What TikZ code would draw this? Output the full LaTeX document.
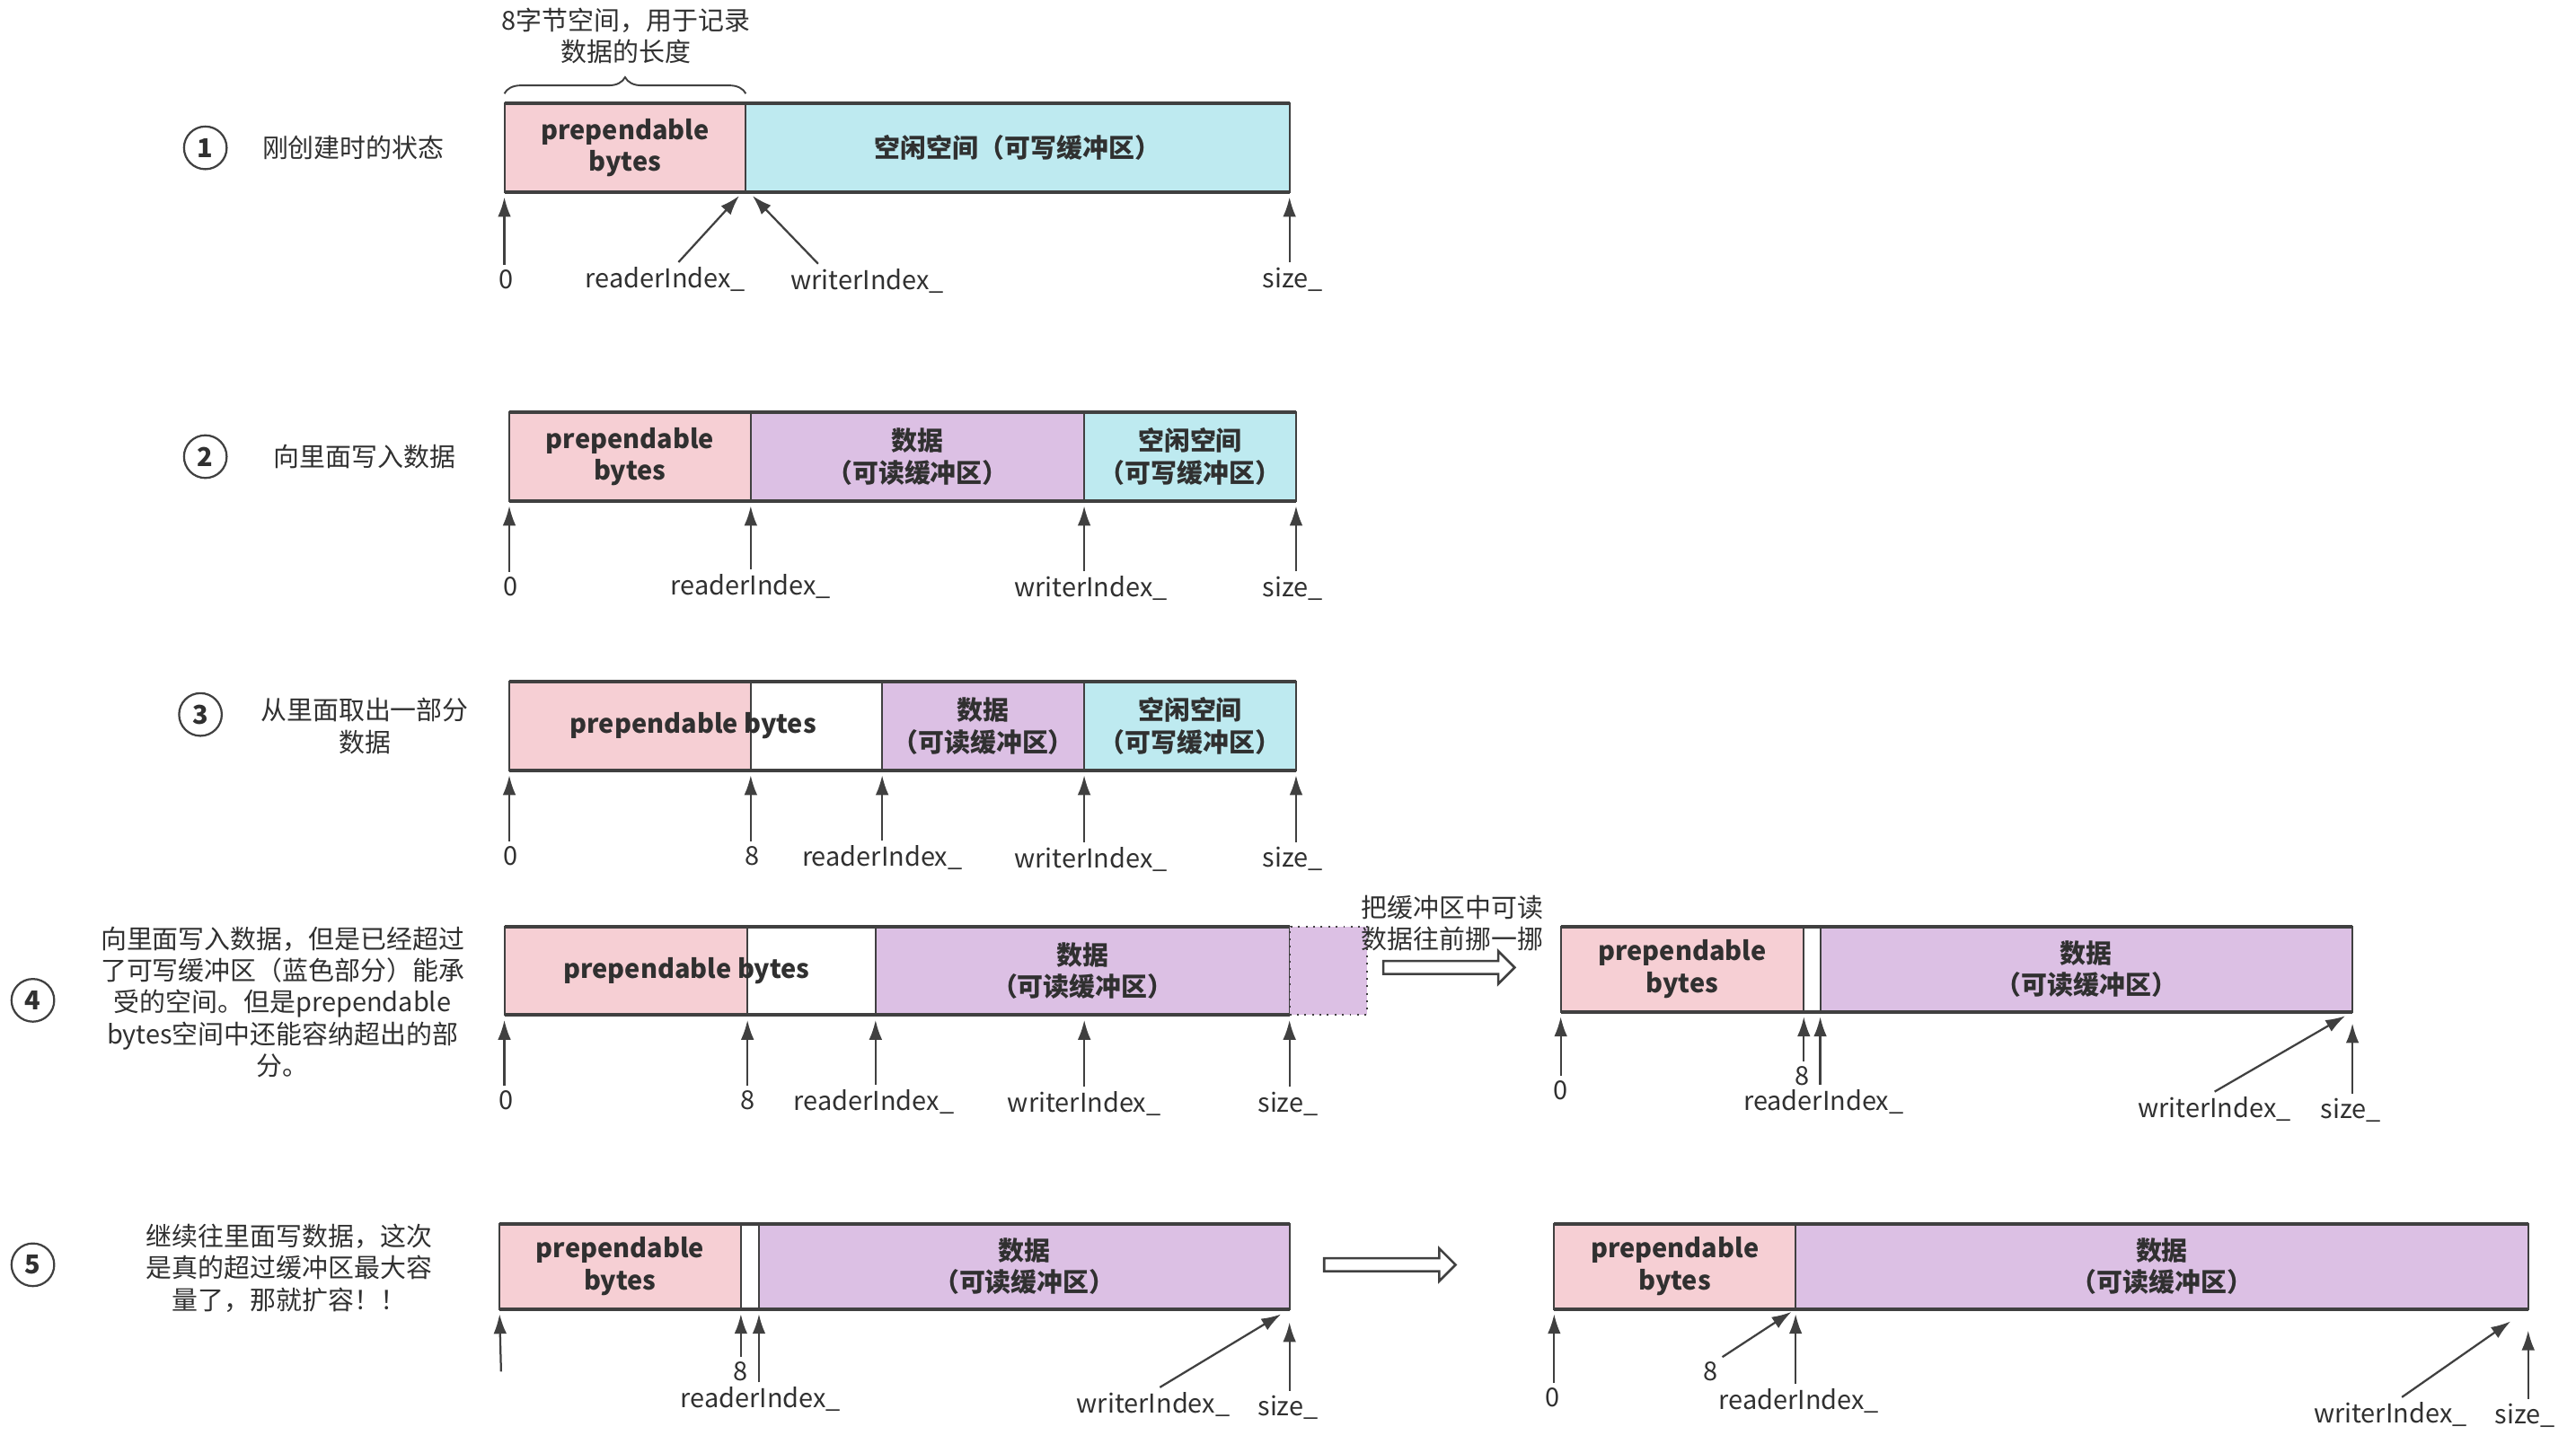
\documentclass[tikz,border=0pt]{standalone}
\usepackage{fontspec}
\setmainfont{Noto Sans CJK SC}
\usepackage{xcolor}
\usepackage{tikz}
\usetikzlibrary{arrows.meta,positioning,shapes.arrows,decorations.pathreplacing}
\definecolor{ink}{HTML}{303030}
\definecolor{edge}{HTML}{404040}
\definecolor{prepink}{HTML}{F6CFD4}
\definecolor{freecyan}{HTML}{BEEAF0}
\definecolor{datapurple}{HTML}{DCC0E4}
\tikzset{
  segbox/.style={draw=edge,line width=0.6pt,minimum height=1.08cm,inner sep=0pt,outer sep=0pt,
    anchor=west,align=center,font=\fontsize{9}{11}\selectfont\bfseries,text=ink},
  rim/.style={draw=edge,line width=1.3pt},
  idxlabel/.style={font=\fontsize{9}{11}\selectfont,text=ink,inner sep=1.5pt},
  note/.style={font=\fontsize{9}{11}\selectfont,text=ink,align=center,inner sep=0pt},
  numcirc/.style={circle,draw=edge,line width=0.7pt,minimum size=0.52cm,inner sep=0pt,
    font=\fontsize{9}{9}\selectfont\bfseries,text=ink},
  ptr/.style={-{Latex[length=0.24cm,width=0.16cm]},line width=0.7pt,draw=edge,shorten >=0.06cm},
  brace/.style={decorate,decoration={brace,amplitude=0.2cm},draw=edge,line width=0.6pt},
  hollowarrow/.style={single arrow,draw=edge,line width=0.8pt,fill=white,inner xsep=0pt,
    inner ysep=0.065cm,minimum height=1.6cm,single arrow head extend=0.12cm}
}
\begin{document}
\begin{tikzpicture}[x=0.02cm,y=-0.02cm]
\useasboundingbox (0,0) rectangle (1568,879);

% 1
\node[numcirc] (n1) at (125,90) {1};
\node[note] (r1desc) at (215,90) {刚创建时的状态};
\node[segbox,fill=prepink,minimum width=2.94cm] (r1pre) at (307,90) {prependable\\bytes};
\node[segbox,fill=freecyan,minimum width=6.62cm,right=0pt of r1pre] (r1free) {空闲空间（可写缓冲区）};
\draw[rim] (r1pre.north west) -- (r1free.north east);
\draw[rim] (r1pre.south west) -- (r1free.south east);
\draw[brace] ([yshift=0.12cm]r1pre.north west) -- ([yshift=0.12cm]r1pre.north east);
\node[note] (r1note) at (381,22) {8字节空间，用于记录\\数据的长度};
\node[idxlabel] (r1zero) at (308,170) {0};
\node[idxlabel] (r1rd) at (405,170) {readerIndex\_};
\node[idxlabel] (r1wr) at (528,171) {writerIndex\_};
\node[idxlabel] (r1sz) at (787,170) {size\_};
\draw[ptr] (r1pre.south west |- r1zero.north) -- (r1pre.south west);
\draw[ptr] ([xshift=0.16cm]r1rd.north) -- ([xshift=-0.04cm]r1pre.south east);
\draw[ptr] ([xshift=-0.6cm]r1wr.north) -- ([xshift=0.04cm]r1pre.south east);
\draw[ptr] (r1free.south east |- r1sz.north) -- (r1free.south east);

% 2
\node[numcirc] (n2) at (125,278) {2};
\node[note] (r2desc) at (222,278) {向里面写入数据};
\node[segbox,fill=prepink,minimum width=2.94cm] (r2pre) at (310,278) {prependable\\bytes};
\node[segbox,fill=datapurple,minimum width=4.06cm,right=0pt of r2pre] (r2dat) {数据\\（可读缓冲区）};
\node[segbox,fill=freecyan,minimum width=2.58cm,right=0pt of r2dat] (r2free) {空闲空间\\（可写缓冲区）};
\draw[rim] (r2pre.north west) -- (r2free.north east);
\draw[rim] (r2pre.south west) -- (r2free.south east);
\node[idxlabel] (r2zero) at (311,357) {0};
\node[idxlabel] (r2rd) at (457,357) {readerIndex\_};
\node[idxlabel] (r2wr) at (664,358) {writerIndex\_};
\node[idxlabel] (r2sz) at (787,358) {size\_};
\draw[ptr] (r2pre.south west |- r2zero.north) -- (r2pre.south west);
\draw[ptr] (r2pre.south east |- r2rd.north) -- (r2pre.south east);
\draw[ptr] (r2dat.south east |- r2wr.north) -- (r2dat.south east);
\draw[ptr] (r2free.south east |- r2sz.north) -- (r2free.south east);

% 3
\node[numcirc] (n3) at (122,435) {3};
\node[note] (r3desc) at (222,442) {从里面取出一部分\\数据};
\node[segbox,fill=prepink,minimum width=2.94cm] (r3pre) at (310,442) {};
\node[segbox,fill=white,minimum width=1.60cm,right=0pt of r3pre] (r3gap) {};
\node[segbox,fill=datapurple,minimum width=2.46cm,right=0pt of r3gap] (r3dat) {数据\\（可读缓冲区）};
\node[segbox,fill=freecyan,minimum width=2.58cm,right=0pt of r3dat] (r3free) {空闲空间\\（可写缓冲区）};
\draw[rim] (r3pre.north west) -- (r3free.north east);
\draw[rim] (r3pre.south west) -- (r3free.south east);
\node[segbox,draw=none,anchor=center] (r3pretext) at (422,442) {prependable bytes};
\node[idxlabel] (r3zero) at (311,521) {0};
\node[idxlabel] (r3eight) at (458,521) {8};
\node[idxlabel] (r3rd) at (537,522) {readerIndex\_};
\node[idxlabel] (r3wr) at (664,523) {writerIndex\_};
\node[idxlabel] (r3sz) at (787,523) {size\_};
\draw[ptr] (r3pre.south west |- r3zero.north) -- (r3pre.south west);
\draw[ptr] (r3pre.south east |- r3eight.north) -- (r3pre.south east);
\draw[ptr] (r3gap.south east |- r3rd.north) -- (r3gap.south east);
\draw[ptr] (r3dat.south east |- r3wr.north) -- (r3dat.south east);
\draw[ptr] (r3free.south east |- r3sz.north) -- (r3free.south east);

% 4
\node[numcirc] (n4) at (20,609) {4};
\node[note] (r4desc) at (172,610) {向里面写入数据，但是已经超过\\了可写缓冲区（蓝色部分）能承\\受的空间。但是prependable\\bytes空间中还能容纳超出的部\\分。};
\node[segbox,fill=prepink,minimum width=2.96cm] (r4pre) at (307,591) {};
\node[segbox,fill=white,minimum width=1.56cm,right=0pt of r4pre] (r4gap) {};
\node[segbox,fill=datapurple,minimum width=5.04cm,right=0pt of r4gap] (r4dat) {数据\\（可读缓冲区）};
\node[segbox,fill=datapurple,dotted,minimum width=0.94cm,right=0pt of r4dat] (r4over) {};
\draw[rim] (r4pre.north west) -- (r4dat.north east);
\draw[rim] (r4pre.south west) -- (r4dat.south east);
\node[segbox,draw=none,anchor=center] (r4pretext) at (418,591) {prependable bytes};
\node[idxlabel] (r4zero) at (308,670) {0};
\node[idxlabel] (r4eight) at (455,670) {8};
\node[idxlabel] (r4rd) at (532,671) {readerIndex\_};
\node[idxlabel] (r4wr) at (660,672) {writerIndex\_};
\node[idxlabel] (r4sz) at (784,672) {size\_};
\draw[ptr] (r4pre.south west |- r4zero.north) -- (r4pre.south west);
\draw[ptr] (r4pre.south east |- r4eight.north) -- (r4pre.south east);
\draw[ptr] (r4gap.south east |- r4rd.north) -- (r4gap.south east);
\draw[ptr] (r4wr.north) -- (r4wr.north |- r4dat.south);
\draw[ptr] (r4dat.south east |- r4sz.north) -- (r4dat.south east);

\node[note] (r4mvnote) at (884,562) {把缓冲区中可读\\数据往前挪一挪};
\node[hollowarrow] (r4move) at (880,589) {};

\node[segbox,fill=prepink,minimum width=2.96cm,minimum height=1.04cm] (r4bpre) at (950,590) {prependable\\bytes};
\node[segbox,fill=white,minimum width=0.20cm,minimum height=1.04cm,right=0pt of r4bpre] (r4bgap) {};
\node[segbox,fill=datapurple,minimum width=6.48cm,minimum height=1.04cm,right=0pt of r4bgap] (r4bdat) {数据\\（可读缓冲区）};
\draw[rim] (r4bpre.north west) -- (r4bdat.north east);
\draw[rim] (r4bpre.south west) -- (r4bdat.south east);
\node[idxlabel] (r4bzero) at (950,664) {0};
\node[idxlabel] (r4beight) at (1097,655) {8};
\node[idxlabel] (r4brd) at (1110,671) {readerIndex\_};
\node[idxlabel] (r4bwr) at (1348,675) {writerIndex\_};
\node[idxlabel] (r4bsz) at (1431,676) {size\_};
\draw[ptr] (r4bpre.south west |- r4bzero.north) -- (r4bpre.south west);
\draw[ptr] (r4bpre.south east |- r4beight.north) -- (r4bpre.south east);
\draw[ptr] (r4bgap.south east |- r4brd.north) -- (r4bgap.south east);
\draw[ptr,shorten >=0.1cm] (r4bwr.north) -- (r4bdat.south east);
\draw[ptr,shorten >=0.14cm] (r4bdat.south east |- r4bsz.north) -- (r4bdat.south east);

% 5
\node[numcirc] (n5) at (20,770) {5};
\node[note] (r5desc) at (176,772) {继续往里面写数据，这次\\是真的超过缓冲区最大容\\量了，那就扩容！！};
\node[segbox,fill=prepink,minimum width=2.94cm,minimum height=1.04cm] (r5pre) at (304,771) {prependable\\bytes};
\node[segbox,fill=white,minimum width=0.22cm,minimum height=1.04cm,right=0pt of r5pre] (r5gap) {};
\node[segbox,fill=datapurple,minimum width=6.46cm,minimum height=1.04cm,right=0pt of r5gap] (r5dat) {数据\\（可读缓冲区）};
\draw[rim] (r5pre.north west) -- (r5dat.north east);
\draw[rim] (r5pre.south west) -- (r5dat.south east);
\coordinate (r5orig) at (305,835);
\node[idxlabel] (r5eight) at (451,835) {8};
\node[idxlabel] (r5rd) at (463,852) {readerIndex\_};
\node[idxlabel] (r5wr) at (702,855) {writerIndex\_};
\node[idxlabel] (r5sz) at (784,857) {size\_};
\draw[ptr] (r5orig) -- (r5pre.south west);
\draw[ptr] (r5pre.south east |- r5eight.north) -- (r5pre.south east);
\draw[ptr] (r5gap.south east |- r5rd.north) -- (r5gap.south east);
\draw[ptr,shorten >=0.12cm] ([xshift=0.08cm]r5wr.north) -- (r5dat.south east);
\draw[ptr,shorten >=0.16cm] (r5dat.south east |- r5sz.north) -- (r5dat.south east);

\node[hollowarrow] (r5grow) at (844,770) {};

\node[segbox,fill=prepink,minimum width=2.94cm,minimum height=1.04cm] (r5bpre) at (946,771) {prependable\\bytes};
\node[segbox,fill=datapurple,minimum width=8.92cm,minimum height=1.04cm,right=0pt of r5bpre] (r5bdat) {数据\\（可读缓冲区）};
\draw[rim] (r5bpre.north west) -- (r5bdat.north east);
\draw[rim] (r5bpre.south west) -- (r5bdat.south east);
\node[idxlabel] (r5bzero) at (945,851) {0};
\node[idxlabel] (r5beight) at (1041,835) {8};
\node[idxlabel] (r5brd) at (1095,853) {readerIndex\_};
\node[idxlabel] (r5bwr) at (1455,861) {writerIndex\_};
\node[idxlabel] (r5bsz) at (1537,862) {size\_};
\draw[ptr] (r5bpre.south west |- r5bzero.north) -- (r5bpre.south west);
\draw[ptr] (r5beight.north east) -- (r5bpre.south east);
\draw[ptr] (r5bpre.south east |- r5brd.north) -- (r5bpre.south east);
\draw[ptr,shorten >=0.26cm] ([xshift=0.14cm]r5bwr.north) -- (r5bdat.south east);
\draw[ptr,shorten >=0.26cm] (r5bdat.south east |- r5bsz.north) -- (r5bdat.south east);
\end{tikzpicture}
\end{document}
